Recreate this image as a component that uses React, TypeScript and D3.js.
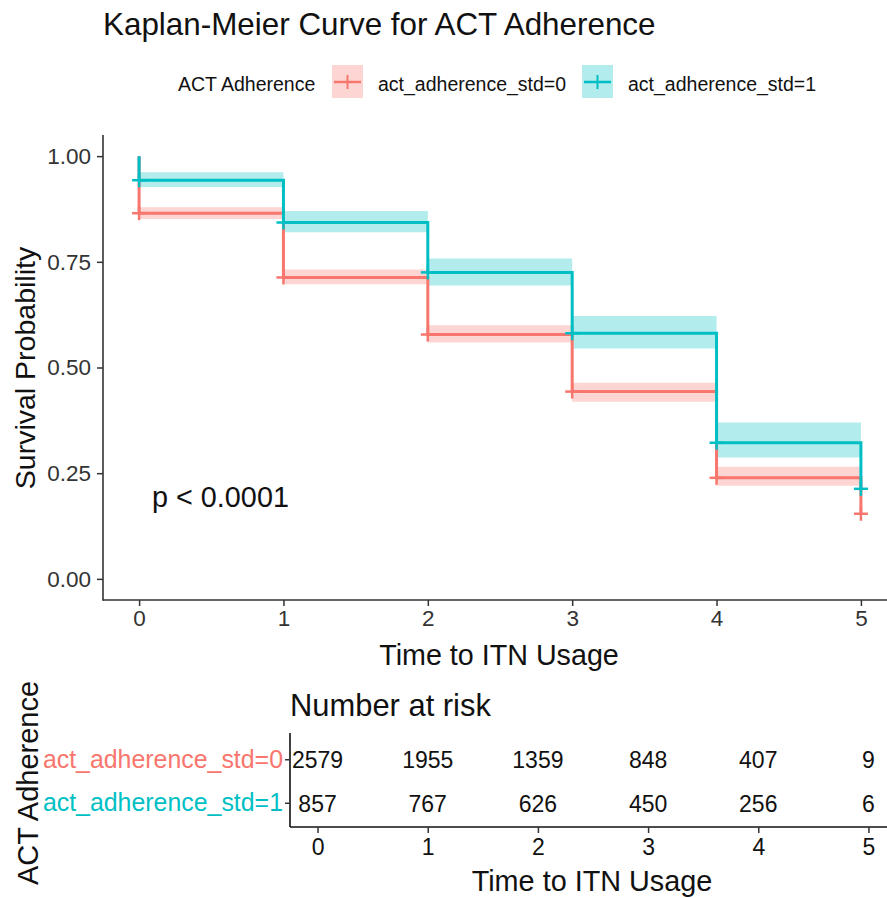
import React, { useEffect, useRef } from 'react';
import * as d3 from 'd3';

// survival estimates at each time (value after the step)
const times = [0, 1, 2, 3, 4, 5];
const groups = ['act_adherence_std=0', 'act_adherence_std=1'];
const surv0 = [0.865, 0.713, 0.578, 0.443, 0.239, 0.154];
const upper0 = [0.879, 0.732, 0.600, 0.464, 0.265];
const lower0 = [0.851, 0.697, 0.559, 0.419, 0.220];
const surv1 = [0.943, 0.843, 0.725, 0.581, 0.322, 0.213];
const upper1 = [0.962, 0.870, 0.758, 0.622, 0.370];
const lower1 = [0.927, 0.820, 0.694, 0.545, 0.287];
const risk0 = [2579, 1955, 1359, 848, 407, 9];
const risk1 = [857, 767, 626, 450, 256, 6];
const yTicks = [0, 0.25, 0.5, 0.75, 1];
const colors = ['#F8766D', '#00BFC4'];

const FONT = "'Liberation Sans', Arial, sans-serif";

function KMChart() {
  const ref = useRef<SVGSVGElement>(null);

  useEffect(() => {
    if (!ref.current) return;
    const svg = d3.select(ref.current);
    svg.selectAll('*').remove();
    svg.attr('font-family', FONT);

    const x = d3.scaleLinear().domain([-0.25, 5.25]).range([103, 897]);
    const y = d3.scaleLinear().domain([-0.05, 1.05]).range([600, 135]);

    // title
    svg.append('text').attr('x', 103).attr('y', 35)
      .attr('font-size', 31.4).attr('fill', '#111').text('Kaplan-Meier Curve for ACT Adherence');

    // legend
    svg.append('text').attr('x', 178).attr('y', 91)
      .attr('font-size', 19.5).attr('fill', '#111').text('ACT Adherence');
    const keyX = [332, 582];
    groups.forEach((g, i) => {
      const k = svg.append('g').attr('transform', `translate(${keyX[i]},65)`);
      k.append('rect').attr('width', 31).attr('height', 33)
        .attr('fill', colors[i]).attr('fill-opacity', 0.3);
      k.append('line').attr('x1', 2).attr('x2', 29).attr('y1', 17).attr('y2', 17)
        .attr('stroke', colors[i]).attr('stroke-width', 2.5);
      k.append('line').attr('x1', 15.5).attr('x2', 15.5).attr('y1', 10).attr('y2', 24)
        .attr('stroke', colors[i]).attr('stroke-width', 2);
      svg.append('text').attr('x', keyX[i] + 46).attr('y', 91)
        .attr('font-size', 19.5).attr('fill', '#111').text(g);
    });

    const series = [
      { surv: surv0, upper: upper0, lower: lower0, color: colors[0] },
      { surv: surv1, upper: upper1, lower: lower1, color: colors[1] },
    ];

    // confidence ribbons
    series.forEach(s => {
      const band = s.upper.map((u, i) => ({ t: times[i], u, l: s.lower[i] }));
      band.push({ t: times[times.length - 1], u: s.upper[s.upper.length - 1], l: s.lower[s.lower.length - 1] });
      const area = d3.area<{ t: number; u: number; l: number }>()
        .x(d => x(d.t)).y0(d => y(d.l)).y1(d => y(d.u))
        .curve(d3.curveStepAfter);
      svg.append('path').attr('d', area(band) as string)
        .attr('fill', s.color).attr('fill-opacity', 0.3);
    });

    // step curves
    series.forEach(s => {
      const pts = [{ t: 0, v: 1 }, ...s.surv.map((v, i) => ({ t: times[i], v }))];
      const line = d3.line<{ t: number; v: number }>()
        .x(d => x(d.t)).y(d => y(d.v)).curve(d3.curveStepAfter);
      svg.append('path').attr('d', line(pts) as string)
        .attr('fill', 'none').attr('stroke', s.color).attr('stroke-width', 3);
      // censor marks
      s.surv.forEach((v, i) => {
        const cx = x(times[i]);
        const cy = y(v);
        svg.append('line').attr('x1', cx - 7).attr('x2', cx + 7).attr('y1', cy).attr('y2', cy)
          .attr('stroke', s.color).attr('stroke-width', 2.5);
        svg.append('line').attr('x1', cx).attr('x2', cx).attr('y1', cy - 7).attr('y2', cy + 7)
          .attr('stroke', s.color).attr('stroke-width', 2.5);
      });
    });

    // axes
    const yAxis = svg.append('g').attr('transform', 'translate(103,0)')
      .call(d3.axisLeft(y).tickValues(yTicks).tickFormat(d3.format('.2f')).tickSizeOuter(0).tickSize(6));
    yAxis.select('.domain').attr('stroke', '#333').attr('stroke-width', 1.6).attr('d', 'M0,135V600.8');
    yAxis.selectAll('.tick line').attr('stroke', '#333').attr('stroke-width', 1.5);
    yAxis.selectAll('.tick text').attr('font-size', 22.5).attr('fill', '#333')
      .attr('font-family', FONT).attr('x', -12);

    const xAxis = svg.append('g').attr('transform', 'translate(0,600)')
      .call(d3.axisBottom(x).tickValues(times).tickFormat(d3.format('d')).tickSizeOuter(0).tickSize(6));
    xAxis.select('.domain').attr('stroke', '#333').attr('stroke-width', 1.6).attr('d', 'M103,0H887');
    xAxis.selectAll('.tick line').attr('stroke', '#333').attr('stroke-width', 1.5);
    xAxis.selectAll('.tick text').attr('font-size', 22.5).attr('fill', '#333')
      .attr('font-family', FONT).attr('y', 10);

    svg.append('text').attr('transform', 'translate(35,368) rotate(-90)')
      .attr('text-anchor', 'middle').attr('font-size', 28.5).attr('fill', '#111')
      .text('Survival Probability');
    svg.append('text').attr('x', 499).attr('y', 665)
      .attr('text-anchor', 'middle').attr('font-size', 28.7).attr('fill', '#111')
      .text('Time to ITN Usage');

    svg.append('text').attr('x', 152).attr('y', 507)
      .attr('font-size', 28.8).attr('fill', '#111').text('p < 0.0001');

    // risk table
    const xt = d3.scaleLinear().domain([-0.25, 5.25]).range([290, 896]);
    const yt = d3.scaleBand().domain(groups).range([738, 825]);
    const risks = [risk0, risk1];

    svg.append('text').attr('x', 290).attr('y', 716)
      .attr('font-size', 30.9).attr('fill', '#111').text('Number at risk');

    groups.forEach((g, gi) => {
      const cy = (yt(g) as number) + yt.bandwidth() / 2;
      risks[gi].forEach((r, i) => {
        svg.append('text').attr('x', xt(times[i])).attr('y', cy)
          .attr('dy', '0.36em').attr('text-anchor', 'middle')
          .attr('font-size', 23).attr('fill', '#111').text(r);
      });
    });

    const ytAxis = svg.append('g').attr('transform', 'translate(290,0)')
      .call(d3.axisLeft(yt).tickSizeOuter(0).tickSize(5));
    ytAxis.select('.domain').attr('stroke', '#111').attr('stroke-width', 1.6)
      .attr('d', 'M0,733V827');
    ytAxis.selectAll('.tick line').attr('stroke', '#333').attr('stroke-width', 1.5);
    ytAxis.selectAll('.tick text').attr('font-size', 24.9).attr('font-family', FONT)
      .attr('x', -7).attr('fill', (_d, i) => colors[i]);

    const xtAxis = svg.append('g').attr('transform', 'translate(0,827)')
      .call(d3.axisBottom(xt).tickValues(times).tickFormat(d3.format('d')).tickSizeOuter(0).tickSize(6));
    xtAxis.select('.domain').attr('stroke', '#111').attr('stroke-width', 1.6).attr('d', 'M290,0H887');
    xtAxis.selectAll('.tick line').attr('stroke', '#333').attr('stroke-width', 1.5);
    xtAxis.selectAll('.tick text').attr('font-size', 23).attr('fill', '#111')
      .attr('font-family', FONT).attr('y', 12);

    svg.append('text').attr('transform', 'translate(38,783) rotate(-90)')
      .attr('text-anchor', 'middle').attr('font-size', 29).attr('fill', '#111')
      .text('ACT Adherence');
    svg.append('text').attr('x', 592).attr('y', 891)
      .attr('text-anchor', 'middle').attr('font-size', 28.8).attr('fill', '#111')
      .text('Time to ITN Usage');
  }, []);

  return (
    <svg ref={ref} width={887} height={898}
      style={{ position: 'absolute', left: 0, top: 0, background: '#fff' }} />
  );
}

export default function App() {
  return <KMChart />;
}
